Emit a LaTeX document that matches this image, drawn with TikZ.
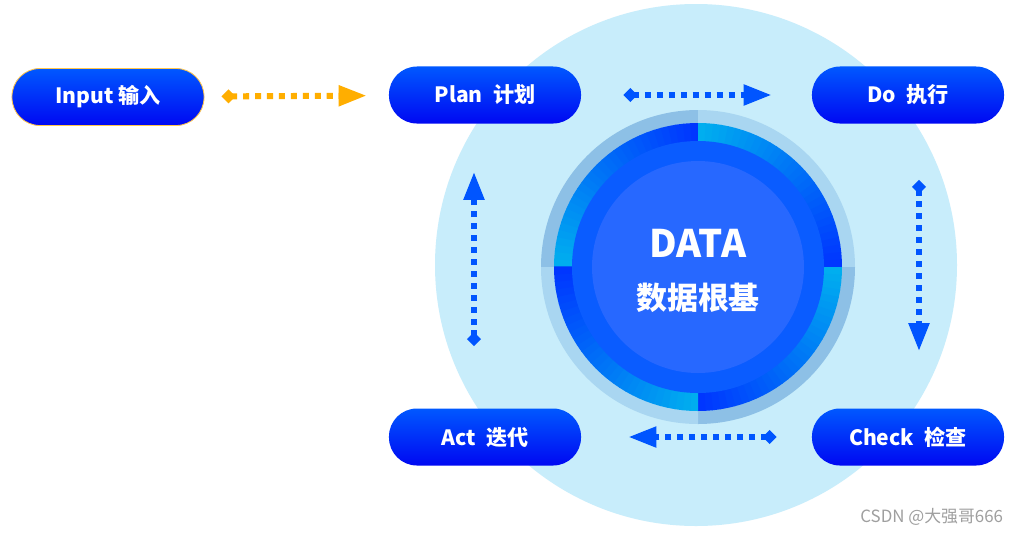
\documentclass[tikz,border=0pt]{standalone}
\usepackage{fontspec}
\setmainfont{Noto Sans CJK SC}
\usetikzlibrary{arrows.meta}

\definecolor{fundo}{HTML}{C8EDFB}
\definecolor{azulseta}{HTML}{0055FF}
\definecolor{laranja}{HTML}{FFAE00}
\definecolor{caixatopo}{HTML}{0058FF}
\definecolor{caixabase}{HTML}{0008F2}
\definecolor{ciano}{HTML}{00AEEF}
\definecolor{azulanel}{HTML}{0036FF}
\definecolor{bordaA}{HTML}{8DC0E6}
\definecolor{bordaB}{HTML}{A9D6F1}
\definecolor{anelmeio}{HTML}{0A5CFF}
\definecolor{nucleo}{HTML}{2768FF}

\begin{document}
\begin{tikzpicture}[x=0.025cm, y=0.025cm,
    etapa/.style={rectangle, rounded corners=0.7cm, minimum width=4.8cm, minimum height=1.425cm,
        top color=caixatopo, bottom color=caixabase, text=white, font=\fontsize{15}{18}\selectfont\bfseries},
    seta/.style={line width=4.3pt, dash pattern=on 4.3pt off 4.2pt,
        {Diamond[length=10pt,width=10pt]}-{Triangle[length=20pt,width=14pt]}}]

\useasboundingbox[fill=white] (0,0) rectangle (1022,-535);

% fundo circular
\fill[fundo] (696,-265) circle (261);

% anel externo claro
\foreach \a/\c in {90/bordaA, 0/bordaB, 270/bordaA, 180/bordaB}
    \fill[\c] (698,-267) -- ++(\a:157) arc[start angle=\a, end angle=\a+90, radius=157] -- cycle;

% anel em gradiente (ciano -> azul, sentido horario)
\foreach \e in {180,90,0,270} {
    \foreach \i in {0,...,29} {
        \pgfmathsetmacro\p{100*\i/29}
        \fill[azulanel!\p!ciano] (698,-267) -- ++(\e-3*\i:144)
            arc[start angle=\e-3*\i, end angle=\e-3*\i-3.3, radius=144] -- cycle;
    }
}
\fill[anelmeio] (698,-267) circle (126);
\fill[nucleo] (698,-267) circle (106);

% texto central
\node[text=white, font=\fontsize{27}{30}\selectfont\bfseries] (dados) at (698,-243) {DATA};
\node[text=white, font=\fontsize{22}{26}\selectfont\bfseries] (base) at (698,-298) {数据根基};

% etapas
\node[etapa, draw=laranja!70, line width=0.6pt] (input) at (108,-97) {Input 输入};
\node[etapa] (plan) at (485,-95) {Plan\hspace{0.5em}计划};
\node[etapa] (do) at (908,-95) {Do\hspace{0.5em}执行};
\node[etapa] (act) at (485,-437) {Act\hspace{0.5em}迭代};
\node[etapa] (check) at (908,-437) {Check\hspace{0.5em}检查};

% setas
\draw[seta, laranja, shorten <=0.425cm, shorten >=0.55cm] (input) -- (plan);
\draw[seta, azulseta, shorten <=1.05cm, shorten >=1.0cm] (plan) -- (do);
\draw[seta, azulseta, shorten <=1.4cm, shorten >=1.425cm] ([xshift=0.275cm]do.south) -- ([xshift=0.275cm]check.north);
\draw[seta, azulseta, shorten <=0.875cm, shorten >=1.175cm] (check) -- (act);
\draw[seta, azulseta, shorten <=1.55cm, shorten >=1.2cm] ([xshift=-0.275cm]act.north) -- ([xshift=-0.275cm]plan.south);

% marca d'agua
\node[text=gray!75, font=\fontsize{12}{14}\selectfont, anchor=east] (marca) at (1008,-517) {CSDN @大强哥666};

\end{tikzpicture}
\end{document}
